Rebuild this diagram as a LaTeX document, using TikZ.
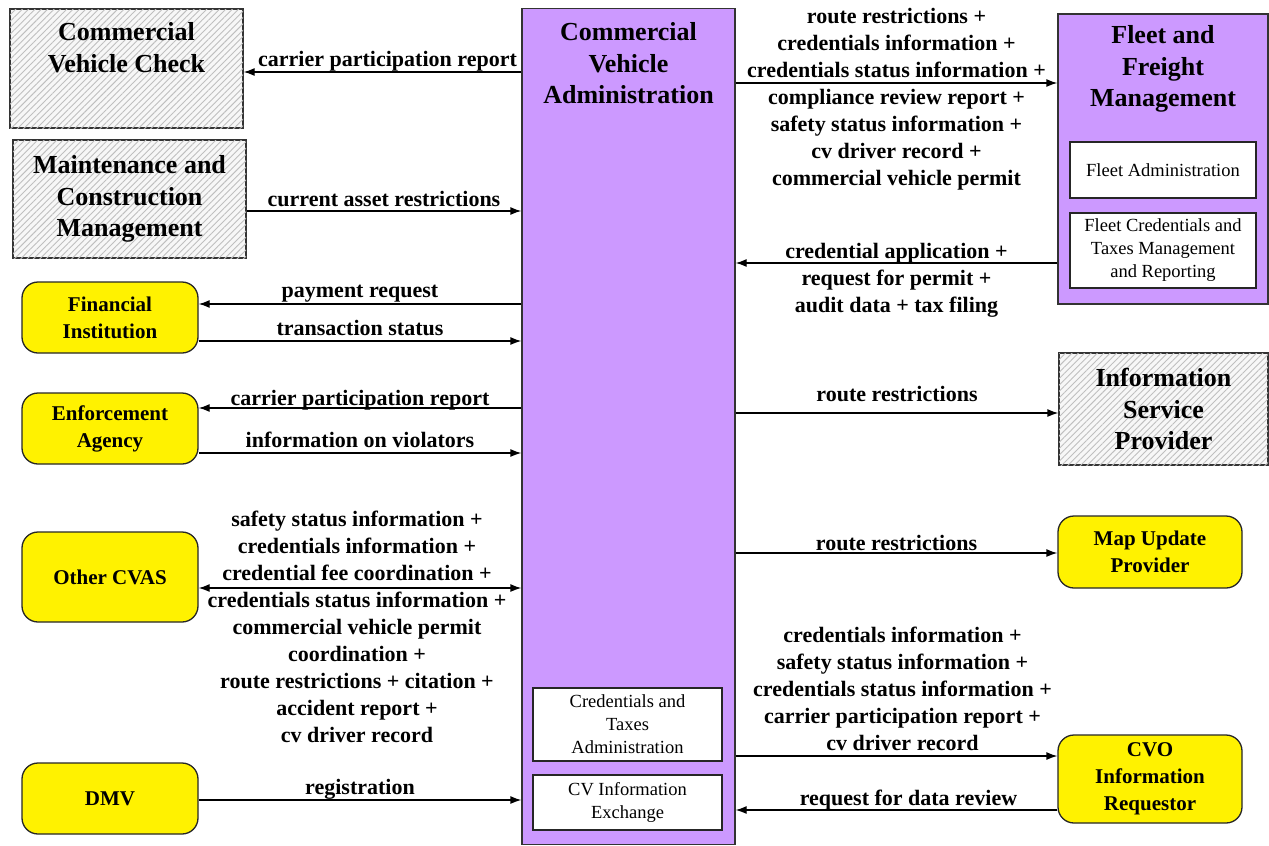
\documentclass[tikz,border=0pt]{standalone}
\usepackage{fontspec}
\setmainfont{Liberation Serif}
\usetikzlibrary{arrows.meta,positioning,shapes,patterns.meta}
\definecolor{cvpurple}{RGB}{204,153,255}
\tikzset{
  hatchbox/.style={draw=black!80,line width=1.3pt,fill=gray!6,postaction={pattern={Lines[angle=45,distance=4.5pt,line width=0.9pt]},pattern color=gray!50},font=\fontsize{26}{31.5}\selectfont\bfseries,align=center},
  ybox/.style={draw=black!85,line width=1.3pt,fill=yellow,rounded corners=16pt,font=\fontsize{21}{27}\selectfont\bfseries,align=center,minimum width=176pt},
  mainbox/.style={draw=black!80,line width=1.3pt,fill=cvpurple},
  subbox/.style={draw=black!85,line width=1.3pt,fill=white,font=\fontsize{18.5}{23}\selectfont,align=center,inner sep=0pt},
  titletext/.style={font=\fontsize{26}{31.5}\selectfont\bfseries,align=center},
  lbl/.style={font=\fontsize{22}{27}\selectfont\bfseries,align=center,inner sep=1pt},
  flow/.style={-{Latex[length=11pt,width=8pt]},line width=1.3pt},
  biflow/.style={{Latex[length=11pt,width=8pt]}-{Latex[length=11pt,width=8pt]},line width=1.3pt}
}
\begin{document}
\begin{tikzpicture}[x=1pt,y=-1pt]
\useasboundingbox (0,0) rectangle (1269,846);
\node[mainbox,minimum width=213pt,minimum height=836pt] (cva) at (628.5,426.5) {};
\node[titletext] (cvatitle) at (628.5,63.5) {Commercial\\Vehicle\\Administration};
\node[subbox,minimum width=189pt,minimum height=73pt] (cta) at (627.5,724.5) {Credentials and\\Taxes\\Administration};
\node[subbox,minimum width=189pt,minimum height=55pt] (cvie) at (627.5,802.5) {CV Information\\Exchange};
\node[hatchbox,minimum width=233pt,minimum height=119pt] (cvc) at (126.5,68.5) {};
\node[titletext] (cvctitle) at (126.5,47.5) {Commercial\\Vehicle Check};
\node[hatchbox,minimum width=233pt,minimum height=118pt] (mcm) at (129.5,199) {Maintenance and\\Construction\\Management};
\node[ybox,minimum height=71pt] (fi) at (110,317.5) {Financial\\Institution};
\node[ybox,minimum height=71pt] (ea) at (110,428.5) {Enforcement\\Agency};
\node[ybox,minimum height=90pt] (ocvas) at (110,577) {Other CVAS};
\node[ybox,minimum height=71pt] (dmv) at (110,798.5) {DMV};
\node[mainbox,minimum width=210pt,minimum height=290pt] (ffm) at (1163,159) {};
\node[titletext] (ffmtitle) at (1163,69) {Fleet and\\Freight\\Management};
\node[subbox,minimum width=186pt,minimum height=56pt] (fa) at (1163,170) {Fleet Administration};
\node[subbox,minimum width=186pt,minimum height=75pt] (fct) at (1163,250.5) {Fleet Credentials and\\Taxes Management\\and Reporting};
\node[hatchbox,minimum width=209pt,minimum height=112pt] (isp) at (1163.5,409) {Information\\Service\\Provider};
\node[ybox,minimum width=184pt,minimum height=72pt] (mup) at (1150,552) {Map Update\\Provider};
\node[ybox,minimum width=184pt,minimum height=88pt] (cvo) at (1150,779) {CVO\\Information\\Requestor};
\draw[flow] ([yshift=-3.5pt]cva.west |- cvc.east) -- ([yshift=-3.5pt]cvc.east) node[lbl,midway,above=-1pt,xshift=5pt] {carrier participation report};
\draw[flow] ([yshift=-12pt]mcm.east) -- ([yshift=-12pt]cva.west |- mcm.east) node[lbl,midway,above=3pt] {current asset restrictions};
\draw[flow] ([yshift=13.5pt]cva.west |- fi.east) -- ([yshift=13.5pt]fi.east) node[lbl,midway,above=0pt] {payment request};
\draw[flow] ([yshift=-23.5pt]fi.east) -- ([yshift=-23.5pt]cva.west |- fi.east) node[lbl,midway,above=4pt] {transaction status};
\draw[flow] ([yshift=20.5pt]cva.west |- ea.east) -- ([yshift=20.5pt]ea.east) node[lbl,midway,above=-4pt] {carrier participation report};
\draw[flow] ([yshift=-24.5pt]ea.east) -- ([yshift=-24.5pt]cva.west |- ea.east) node[lbl,midway,above=4pt] {information on violators};
\draw[biflow] ([yshift=-11pt]ocvas.east) -- ([yshift=-11pt]cva.west |- ocvas.east) node[lbl,midway,yshift=-38.5pt,xshift=-3pt] {safety status information +\\credentials information +\\credential fee coordination +\\credentials status information +\\commercial vehicle permit\\coordination +\\route restrictions + citation +\\accident report +\\cv driver record};
\draw[flow] ([yshift=-1.5pt]dmv.east) -- ([yshift=-1.5pt]cva.west |- dmv.east) node[lbl,midway,above=-1pt] {registration};
\draw[flow] ([yshift=76pt]cva.east |- ffm.west) -- ([yshift=76pt]ffm.west) node[lbl,midway,yshift=-16.5pt] {route restrictions +\\credentials information +\\credentials status information +\\compliance review report +\\safety status information +\\cv driver record +\\commercial vehicle permit};
\draw[flow] ([yshift=-104pt]ffm.west) -- ([yshift=-104pt]cva.east |- ffm.west) node[lbl,midway,yshift=-17pt] {credential application +\\request for permit +\\audit data + tax filing};
\draw[flow] ([yshift=-4pt]cva.east |- isp.west) -- ([yshift=-4pt]isp.west) node[lbl,midway,above=10pt] {route restrictions};
\draw[flow] ([yshift=-1pt]cva.east |- mup.west) -- ([yshift=-1pt]mup.west) node[lbl,midway,above=1pt] {route restrictions};
\draw[flow] ([yshift=23pt]cva.east |- cvo.west) -- ([yshift=23pt]cvo.west) node[lbl,midway,above=4pt,xshift=6pt] {credentials information +\\safety status information +\\credentials status information +\\carrier participation report +\\cv driver record};
\draw[flow] ([yshift=-31pt]cvo.west) -- ([yshift=-31pt]cva.east |- cvo.west) node[lbl,midway,above=-2pt,xshift=12pt] {request for data review};
\end{tikzpicture}
\end{document}
